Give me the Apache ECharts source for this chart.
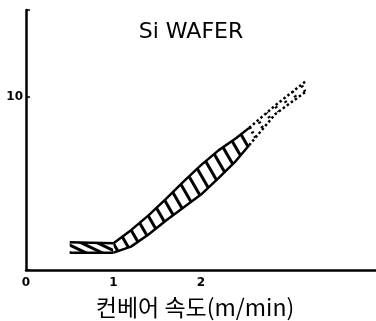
<!DOCTYPE html>
<html>
<head>
<meta charset="utf-8">
<script src="https://cdn.jsdelivr.net/npm/echarts@6/dist/echarts.min.js"></script>
<style>
  html, body { margin: 0; padding: 0; background: #fff; }
  #chart { width: 376px; height: 321px; }
</style>
</head>
<body>
<div id="chart"></div>
<script>
// 평평한 구간 (0.5 ~ 1 m/min)
var flatX = [0.5, 1.0];
var flatLow = [1.0, 1.0];
var flatHigh = [1.6, 1.55];
// 상승 구간 (실선)
var riseX = [1.0, 1.2, 1.4, 1.6, 1.8, 2.0, 2.2, 2.4, 2.55];
var riseLow = [1.0, 1.35, 2.05, 2.85, 3.6, 4.35, 5.3, 6.3, 7.2];
var riseHigh = [1.55, 2.3, 3.15, 4.1, 5.1, 6.05, 6.9, 7.6, 8.2];
// 외삽 구간 (점선)
var dotX = [2.55, 2.85, 3.2];
var dotLow = [7.2, 9.0, 10.3];
var dotHigh = [8.2, 9.5, 10.9];

var xLabels = [0, 1, 2];
var yLabels = [10];

// y를 첫 차원에 두어야 stack이 y 방향으로 쌓인다
function rows(xs, ys) {
  return xs.map(function (x, i) { return [ys[i], x]; });
}
function diffRows(xs, hi, lo) {
  return xs.map(function (x, i) { return [+(hi[i] - lo[i]).toFixed(3), x]; });
}

function band(name, xs, lo, hi, lineType, lineWidth, decal) {
  return [
    {
      name: name + '-low', type: 'line', symbol: 'none', stack: name,
      encode: { x: 1, y: 0 },
      data: rows(xs, lo),
      lineStyle: { color: '#000', width: lineWidth, type: lineType },
      silent: true
    },
    {
      name: name + '-high', type: 'line', symbol: 'none', stack: name,
      encode: { x: 1, y: 0 },
      data: diffRows(xs, hi, lo),
      itemStyle: { color: '#fff', decal: decal },
      lineStyle: { color: '#000', width: lineWidth, type: lineType },
      areaStyle: { color: '#fff', opacity: 1 },
      silent: true
    }
  ];
}

var chart = echarts.init(document.getElementById('chart'));

var option = {
  animation: false,
  backgroundColor: '#fff',
  title: {
    text: 'Si WAFER',
    left: 186, top: 16, textAlign: 'center',
    textStyle: { fontFamily: 'DejaVu Sans', fontSize: 22, fontWeight: 'normal', color: '#000' }
  },
  grid: { left: 26, right: 0, top: 10, bottom: 51, outerBoundsMode: 'none' },
  xAxis: {
    type: 'value', min: 0, max: 4, interval: 1, z: 10,
    name: '컨베어 속도(m/min)',
    nameLocation: 'middle', nameGap: 26,
    nameTextStyle: { fontFamily: 'Noto Sans CJK KR', fontSize: 23, color: '#000', padding: [0, 12, 0, 0] },
    axisLine: { lineStyle: { color: '#000', width: 2.5 } },
    axisTick: { show: false },
    splitLine: { show: false },
    axisLabel: {
      margin: 7, color: '#000', fontSize: 12, fontWeight: 'bold', fontFamily: 'DejaVu Sans',
      formatter: function (v) { return xLabels.indexOf(v) >= 0 ? String(v) : ''; }
    }
  },
  yAxis: {
    type: 'value', min: 0, max: 15, interval: 10, z: 10,
    axisLine: { show: true, lineStyle: { color: '#000', width: 2.5 } },
    axisTick: { show: true, inside: true, length: 4, lineStyle: { color: '#000', width: 1.5 } },
    splitLine: { show: false },
    axisLabel: {
      margin: 3, color: '#000', fontSize: 12, fontWeight: 'bold', fontFamily: 'DejaVu Sans',
      formatter: function (v) { return yLabels.indexOf(v) >= 0 ? String(v) : ''; }
    }
  },
  series: [].concat(
    band('flat', flatX, flatLow, flatHigh, 'solid', 2.5, {
      color: '#000', backgroundColor: '#fff',
      dashArrayX: [1, 0], dashArrayY: [3, 4], rotation: Math.PI / 7
    }),
    band('rise', riseX, riseLow, riseHigh, 'solid', 2.5, {
      color: '#000', backgroundColor: '#fff',
      dashArrayX: [1, 0], dashArrayY: [2.5, 7.5], rotation: Math.PI / 3
    }),
    band('dot', dotX, dotLow, dotHigh, 'dotted', 2.5, {
      color: '#000', backgroundColor: '#fff',
      dashArrayX: [2, 3], dashArrayY: [2.5, 7.5], rotation: Math.PI / 3
    })
  )
};

chart.setOption(option);
</script>
</body>
</html>
